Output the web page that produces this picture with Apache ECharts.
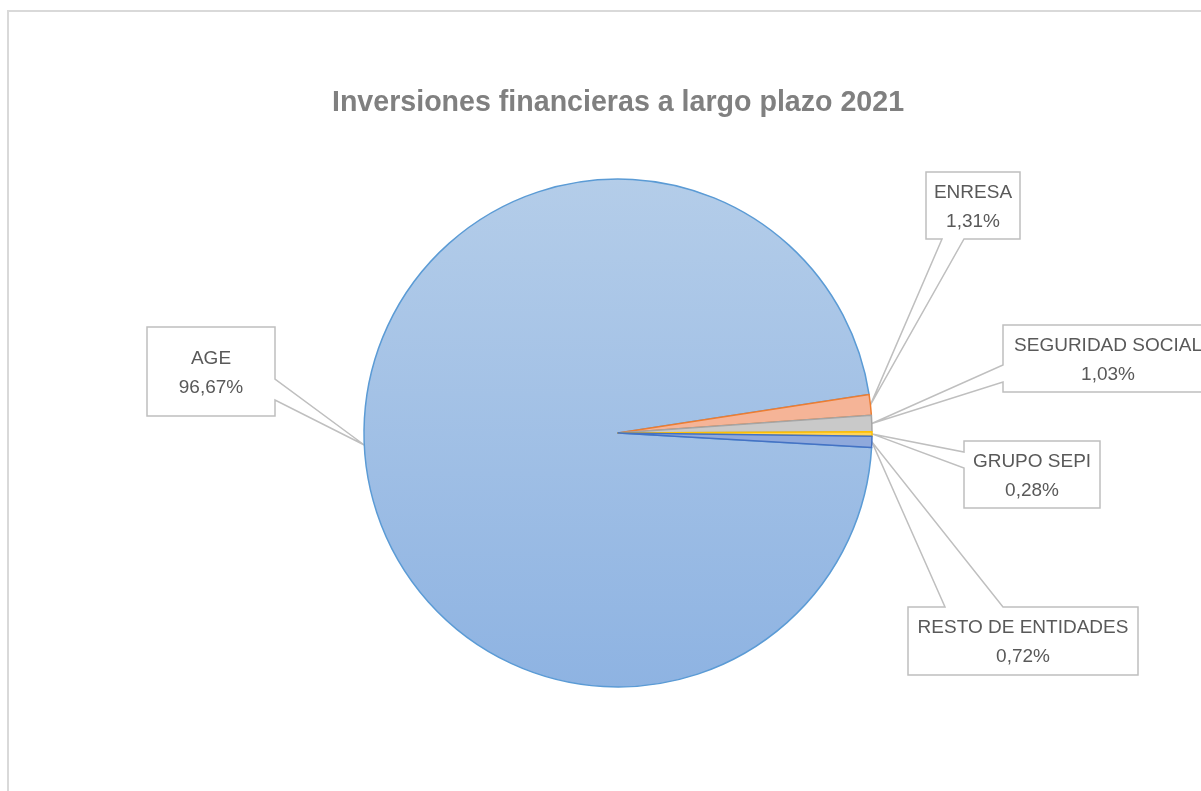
<!DOCTYPE html>
<html>
<head>
<meta charset="utf-8">
<title>Inversiones financieras a largo plazo 2021</title>
<script src="https://cdn.jsdelivr.net/npm/echarts@6/dist/echarts.min.js"></script>
<style>
  html, body { margin: 0; padding: 0; overflow: hidden; background: #fff; }
  #frame { position: absolute; left: 7px; top: 10px; width: 1400px; height: 1000px; border: 2px solid #d9d9d9; box-sizing: border-box; }
  #chart { position: absolute; left: 0; top: 0; width: 1236px; height: 791px; }
</style>
</head>
<body>
<div id="frame"></div>
<div id="chart"></div>
<script>
const categories = ['AGE', 'ENRESA', 'SEGURIDAD SOCIAL', 'GRUPO SEPI', 'RESTO DE ENTIDADES']
const shares = [96.67, 1.31, 1.03, 0.28, 0.72]

const sliceFills = ['#a3c1e6', '#f5b497', '#c9c9c9', '#ffd45a', '#8fa9dc']
const sliceBorders = ['#5b9bd5', '#ed7d31', '#a5a5a5', '#ffc000', '#4472c4']

// callout boxes: centre, size, edge that carries the pointer, pointer base along that edge
const callouts = [
  { cx: 211, cy: 371.5, w: 128, h: 89, side: 'right', t0: 52, t1: 73 },
  { cx: 973, cy: 205.5, w: 94, h: 67, side: 'bottom', t0: 16, t1: 38 },
  { cx: 1108, cy: 358.5, w: 210, h: 67, side: 'left', t0: 40, t1: 57 },
  { cx: 1032, cy: 474.5, w: 136, h: 67, side: 'left', t0: 11, t1: 27 },
  { cx: 1023, cy: 641, w: 230, h: 68, side: 'top', t0: 37, t1: 95 }
]

const chart = echarts.init(document.getElementById('chart'))

const calloutPath = (c, tip) => {
  const L = c.cx - c.w / 2, R = c.cx + c.w / 2, T = c.cy - c.h / 2, B = c.cy + c.h / 2
  if (c.side === 'top') {
    return [[L, T], [L + c.t0, T], tip, [L + c.t1, T], [R, T], [R, B], [L, B], [L, T], [L + c.t0, T]]
  }
  if (c.side === 'right') {
    return [[L, T], [R, T], [R, T + c.t0], tip, [R, T + c.t1], [R, B], [L, B], [L, T], [R, T]]
  }
  if (c.side === 'bottom') {
    return [[L, T], [R, T], [R, B], [L + c.t1, B], tip, [L + c.t0, B], [L, B], [L, T], [R, T]]
  }
  return [[L, T], [R, T], [R, B], [L, B], [L, T + c.t1], tip, [L, T + c.t0], [L, T], [R, T]]
}

const pieData = categories.map((name, i) => ({
  name: name,
  value: shares[i],
  itemStyle: {
    color: i === 0
      ? new echarts.graphic.LinearGradient(0, 0, 0, 1, [
          { offset: 0, color: '#b4cde9' },
          { offset: 1, color: '#8eb3e2' }
        ])
      : sliceFills[i],
    borderColor: sliceBorders[i],
    borderWidth: 1.5
  }
}))

const option = {
  animation: false,
  backgroundColor: 'transparent',
  title: {
    text: 'Inversiones financieras a largo plazo 2021',
    left: 'center',
    top: 84,
    textStyle: {
      fontFamily: 'Liberation Sans',
      fontWeight: 'bold',
      fontSize: 28.6,
      color: '#808080'
    }
  },
  series: [
    {
      type: 'pie',
      center: [618, 433],
      radius: 254,
      startAngle: 356.7,
      clockwise: true,
      avoidLabelOverlap: false,
      emphasis: { disabled: true },
      label: {
        show: true,
        position: 'outside',
        fontFamily: 'Liberation Sans',
        fontSize: 19,
        lineHeight: 29,
        color: '#595959',
        formatter: (p) => p.name + '\n' + p.value.toFixed(2).replace('.', ',') + '%'
      },
      labelLine: {
        show: true,
        length: 10,
        length2: 10,
        lineStyle: { color: '#bfbfbf', width: 1.5 }
      },
      labelLayout: (p) => {
        const c = callouts[p.dataIndex]
        const tip = p.labelLinePoints[0]
        return {
          x: c.cx,
          y: c.cy + 1.5,
          align: 'center',
          verticalAlign: 'middle',
          labelLinePoints: calloutPath(c, tip)
        }
      },
      data: pieData
    }
  ]
}

chart.setOption(option)
</script>
</body>
</html>
